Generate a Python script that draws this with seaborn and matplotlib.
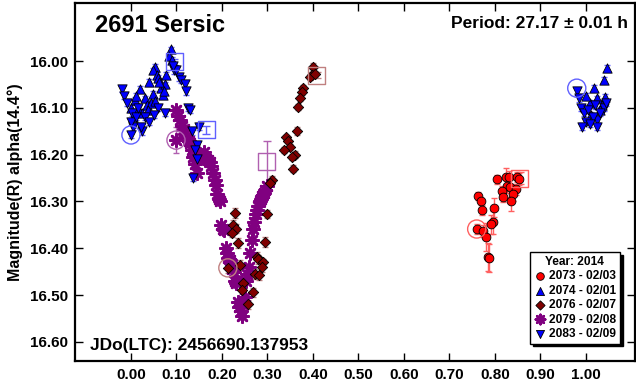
import numpy as np
import pandas as pd
import matplotlib
matplotlib.use("Agg")
import matplotlib.pyplot as plt
import seaborn as sns

# lightcurve data (phase, magnitude, error)
s2073_phase = [0.804, 0.824, 0.832, 0.848, 0.826, 0.834, 0.846, 0.815, 0.840, 0.817, 0.835,
               0.763, 0.769, 0.772, 0.798, 0.796, 0.791, 0.760, 0.774, 0.780, 0.785, 0.787, 0.852]
s2073_mag = [16.253, 16.248, 16.248, 16.248, 16.267, 16.270, 16.274, 16.277, 16.284, 16.290, 16.300,
             16.288, 16.300, 16.318, 16.313, 16.345, 16.349, 16.359, 16.363, 16.376, 16.418, 16.420, 16.252]
s2073_err = [0.010, 0.020, 0.012, 0.010, 0.015, 0.020, 0.012, 0.010, 0.015, 0.012, 0.020,
             0.008, 0.008, 0.010, 0.020, 0.025, 0.020, 0.010, 0.012, 0.030, 0.030, 0.030, 0.012]

s2074_phase = [0.088, 0.083, 0.090, 0.053, 0.048, 0.057, 0.040, 0.059, 0.070, 0.020, 0.009,
               0.048, 0.030, 0.065, 0.075, 0.078, 0.015, 0.035, 0.025, 0.045, 0.000, 0.005,
               0.062, 0.072, 0.052, 0.038, 0.012,
               1.046, 1.040, 1.018, 1.042, 1.010, 1.035, 1.025, 1.000, 1.030, 1.012]
s2074_mag = [15.975, 15.990, 15.998, 16.013, 16.020, 16.030, 16.045, 16.036, 16.073, 16.060, 16.083,
             16.070, 16.080, 16.058, 16.050, 16.030, 16.100, 16.095, 16.110, 16.090, 16.100, 16.120,
             16.045, 16.065, 16.085, 16.105, 16.075,
             16.015, 16.040, 16.058, 16.077, 16.090, 16.095, 16.080, 16.075, 16.105, 16.115]
s2074_err = [0.006] * len(s2074_phase)

s2076_phase = [0.400, 0.397, 0.393, 0.405, 0.378, 0.375, 0.371, 0.368, 0.364, 0.340, 0.345,
               0.349, 0.336, 0.360, 0.353, 0.357, 0.310, 0.306, 0.229, 0.298, 0.225, 0.231,
               0.222, 0.236, 0.294, 0.276, 0.280, 0.290, 0.240, 0.288, 0.272, 0.282, 0.246,
               0.268, 0.244, 0.257, 0.213]
s2076_mag = [16.013, 16.030, 16.035, 16.028, 16.058, 16.066, 16.080, 16.098, 16.150, 16.163, 16.170,
             16.183, 16.190, 16.200, 16.205, 16.230, 16.254, 16.260, 16.325, 16.327, 16.350, 16.358,
             16.367, 16.389, 16.387, 16.418, 16.424, 16.430, 16.436, 16.440, 16.455, 16.458, 16.475,
             16.494, 16.490, 16.520, 16.442]
s2076_err = [0.008, 0.006, 0.006, 0.006, 0.006, 0.006, 0.006, 0.006, 0.008, 0.006, 0.006,
             0.006, 0.006, 0.008, 0.006, 0.008, 0.008, 0.008, 0.010, 0.008, 0.010, 0.010,
             0.010, 0.010, 0.010, 0.010, 0.010, 0.008, 0.010, 0.010, 0.010, 0.010, 0.010,
             0.010, 0.008, 0.010, 0.010]

s2079_phase = [0.100, 0.104, 0.108, 0.112, 0.116, 0.119, 0.123, 0.127, 0.130, 0.134, 0.137,
               0.141, 0.145, 0.150, 0.155, 0.160, 0.165, 0.169, 0.173, 0.177, 0.180, 0.184,
               0.187, 0.190, 0.193, 0.196, 0.199, 0.202, 0.205, 0.208, 0.211, 0.214, 0.217,
               0.220, 0.223, 0.226, 0.229, 0.232, 0.235, 0.238, 0.241, 0.244, 0.247, 0.250,
               0.253, 0.256, 0.259, 0.262, 0.265, 0.268, 0.271, 0.274, 0.277, 0.280, 0.283,
               0.286, 0.289, 0.292, 0.295, 0.298, 0.099]
s2079_mag = [16.105, 16.118, 16.126, 16.138, 16.145, 16.155, 16.162, 16.170, 16.176, 16.190, 16.205,
             16.220, 16.240, 16.205, 16.200, 16.195, 16.210, 16.212, 16.215, 16.225, 16.240, 16.255,
             16.265, 16.285, 16.295, 16.300, 16.350, 16.358, 16.362, 16.400, 16.410, 16.420, 16.425,
             16.432, 16.445, 16.450, 16.470, 16.475, 16.515, 16.525, 16.535, 16.545, 16.520, 16.505,
             16.470, 16.455, 16.440, 16.410, 16.382, 16.360, 16.345, 16.326, 16.318, 16.310, 16.300,
             16.295, 16.288, 16.282, 16.275, 16.268, 16.169]
s2079_err = [0.004] * (len(s2079_phase) - 1) + [0.027]

s2083_phase = [-0.020, -0.015, 0.002, 0.005, 0.025, 0.022, 0.000, 0.010, 0.030, 0.060, 0.075,
               0.040, 0.095, 0.105, 0.110, 0.118, 0.120, 0.125, 0.130, 0.134, 0.150, 0.146,
               0.140, 0.145, 0.137, 0.100, 0.092, 0.000, -0.008, 0.015, 0.050,
               0.980, 0.985, 0.990, 0.995, 1.000, 1.025, 1.024, 1.040, 1.045, 1.005, 1.015,
               1.030, 1.020, 0.992, 1.008]
s2083_mag = [16.060, 16.075, 16.110, 16.140, 16.150, 16.140, 16.130, 16.120, 16.120, 16.100, 16.110,
             16.130, 16.020, 16.035, 16.040, 16.050, 16.065, 16.100, 16.105, 16.150, 16.140, 16.180,
             16.190, 16.210, 16.250, 16.020, 16.010, 16.158, 16.090, 16.100, 16.115,
             16.065, 16.080, 16.100, 16.110, 16.130, 16.125, 16.140, 16.100, 16.090, 16.105, 16.120,
             16.110, 16.095, 16.140, 16.135]
s2083_err = [0.007] * len(s2083_phase)

# first (circle) / last (square) observation of each session
sessions = ["2073 - 02/03", "2074 - 02/01", "2076 - 02/07", "2079 - 02/08", "2083 - 02/09"]
first_phase = [0.760, 0.980, 0.213, 0.099, 0.000]
first_mag = [16.359, 16.058, 16.442, 16.169, 16.158]
last_phase = [0.855, 0.095, 0.408, 0.298, 0.165]
last_mag = [16.250, 16.002, 16.030, 16.215, 16.147]
last_err = [0.012, 0.006, 0.006, 0.045, 0.008]

colors = ["#ff0000", "#0000ff", "#800000", "#800080", "#0000ff"]
bar_colors = ["#ff6060", "#6060ff", "#c08080", "#b060b0", "#6060ff"]
markers = ["o", "^", "D", (8, 2, 0), "v"]
sizes = [40, 45, 28, 80, 45]
legend_sizes = [30, 34, 22, 45, 34]

data = {
    "2073 - 02/03": (s2073_phase, s2073_mag, s2073_err),
    "2074 - 02/01": (s2074_phase, s2074_mag, s2074_err),
    "2076 - 02/07": (s2076_phase, s2076_mag, s2076_err),
    "2079 - 02/08": (s2079_phase, s2079_mag, s2079_err),
    "2083 - 02/09": (s2083_phase, s2083_mag, s2083_err),
}

plt.rcParams["font.family"] = ["Liberation Sans", "DejaVu Sans"]
plt.rcParams["font.weight"] = "bold"

fig = plt.figure(figsize=(6.36, 3.85), dpi=100)
ax = fig.add_axes([75 / 636, 1 - 361 / 385, 560 / 636, 358 / 385])

# drawing order: purple, darkred, red, then blue on top
order = [3, 2, 0, 1, 4]
for i in order:
    name = sessions[i]
    ph, mg, er = data[name]
    df = pd.DataFrame({"phase": ph, "mag": mg, "err": er})
    ax.errorbar(df["phase"], df["mag"], yerr=df["err"], fmt="none", ecolor=bar_colors[i],
                elinewidth=1, capsize=2.5, capthick=1, zorder=2)
    if markers[i] == (8, 2, 0):
        sns.scatterplot(data=df, x="phase", y="mag", ax=ax, marker=markers[i], s=sizes[i],
                        color=colors[i], edgecolor=colors[i], linewidth=1.9, label=name, zorder=3)
    else:
        sns.scatterplot(data=df, x="phase", y="mag", ax=ax, marker=markers[i], s=sizes[i],
                        color=colors[i], edgecolor="black", linewidth=0.6, label=name, zorder=3)
    ax.errorbar([last_phase[i]], [last_mag[i]], yerr=[last_err[i]], fmt="none",
                ecolor=bar_colors[i], elinewidth=1, capsize=3, zorder=2)
    ax.scatter([first_phase[i]], [first_mag[i]], s=170, marker="o", facecolors="none",
               edgecolors=bar_colors[i], linewidths=1, zorder=4)
    ax.scatter([last_phase[i]], [last_mag[i]], s=150, marker="s", facecolors="none",
               edgecolors=bar_colors[i], linewidths=1, zorder=4)

ax.set_xlim(-0.123, 1.108)
ax.set_ylim(16.641, 15.876)
ax.set_xticks(np.arange(0, 1.01, 0.1))
ax.set_yticks(np.arange(16.0, 16.61, 0.1))
ax.xaxis.set_major_formatter(matplotlib.ticker.FormatStrFormatter("%.2f"))
ax.yaxis.set_major_formatter(matplotlib.ticker.FormatStrFormatter("%.2f"))
ax.tick_params(direction="in", length=6, width=1, top=True, right=True, labelsize=11, pad=5)
for lab in ax.get_xticklabels() + ax.get_yticklabels():
    lab.set_fontweight("bold")
for sp in ax.spines.values():
    sp.set_linewidth(1.6)

ax.set_xlabel("")
ax.set_ylabel("Magnitude(R) alpha(14.4\u00b0)", fontsize=11.5, fontweight="bold", labelpad=5)

ax.text(0.035, 0.97, "2691 Sersic", transform=ax.transAxes, fontsize=17, fontweight="bold",
        va="top", ha="left")
ax.text(0.988, 0.965, "Period: 27.17 \u00b1 0.01 h", transform=ax.transAxes, fontsize=12.5,
        fontweight="bold", va="top", ha="right")
ax.text(0.027, 0.022, "JDo(LTC): 2456690.137953", transform=ax.transAxes, fontsize=12.5,
        fontweight="bold", va="bottom", ha="left")

# legend in session order
handles, labels = ax.get_legend_handles_labels()
lut = dict(zip(labels, handles))
leg = ax.legend([lut[s] for s in sessions], sessions, title="Year: 2014", loc="lower right",
                bbox_to_anchor=(0.977, 0.042), fancybox=False, edgecolor="black",
                framealpha=1, shadow={"color": "black", "alpha": 1}, fontsize=8.6,
                title_fontproperties={"weight": "bold", "size": 8.6}, handletextpad=0.2,
                labelspacing=0.2, borderpad=0.3, handlelength=1.1,
                borderaxespad=0.2)
for t in leg.get_texts():
    t.set_fontweight("bold")
for h, sz in zip(leg.legend_handles, legend_sizes):
    h.set_sizes([sz])
leg.get_frame().set_linewidth(1)

fig.savefig("out.png", dpi=100)
